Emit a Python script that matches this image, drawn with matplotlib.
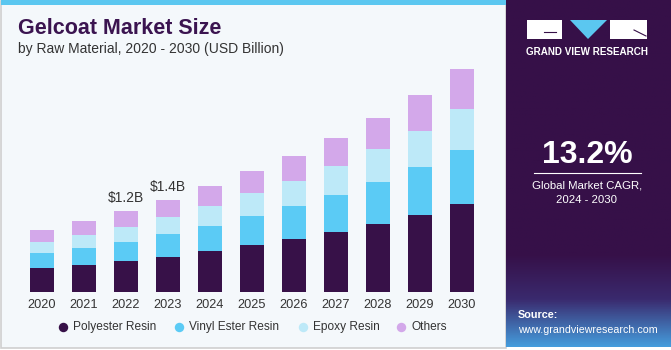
import numpy as np
import matplotlib.pyplot as plt
from matplotlib.patches import Rectangle, Polygon

plt.rcParams['font.family'] = ['Liberation Sans', 'DejaVu Sans']

years = ['2020', '2021', '2022', '2023', '2024', '2025', '2026', '2027', '2028', '2029', '2030']
polyester = [0.351, 0.400, 0.459, 0.519, 0.603, 0.696, 0.785, 0.889, 1.007, 1.145, 1.299]
vinyl_ester = [0.222, 0.252, 0.286, 0.341, 0.375, 0.430, 0.493, 0.553, 0.622, 0.711, 0.804]
epoxy = [0.167, 0.197, 0.222, 0.252, 0.296, 0.336, 0.370, 0.425, 0.484, 0.533, 0.607]
others = [0.178, 0.197, 0.233, 0.256, 0.292, 0.326, 0.370, 0.410, 0.464, 0.523, 0.588]
series_names = ['Polyester Resin', 'Vinyl Ester Resin', 'Epoxy Resin', 'Others']
colors = ['#371148', '#5BCBF5', '#BDE9F8', '#D3A8EA']
labels = {2: '$1.2B', 3: '$1.4B'}

W, H = 671, 350
fig = plt.figure(figsize=(W / 100, H / 100), dpi=100)
fig.patch.set_facecolor('white')

def fx(px):
    return px / W

def fy(py):
    return 1 - py / H

# background panels
bg = fig.add_axes([0, 0, 1, 1])
bg.set_xlim(0, W)
bg.set_ylim(H, 0)
bg.axis('off')
bg.add_patch(Rectangle((1, 1), 505, 347, facecolor='#F4F8FB', edgecolor='#CFCFCF', lw=1.2))
bg.add_patch(Rectangle((1, 0), 505, 5, facecolor='#5BC7F0', edgecolor='none'))

# right dark panel with gradient at the bottom
grad = np.linspace(0, 1, 200)
top = np.array([0x36, 0x10, 0x48]) / 255
mid = np.array([0x3A, 0x2A, 0x6E]) / 255
bot = np.array([0x45, 0x9C, 0xDC]) / 255
rows = []
for g in grad:
    y = g * 347
    if y < 255:
        c = top
    elif y < 300:
        t = (y - 255) / 45
        c = top * (1 - t) + mid * t
    else:
        t = (y - 300) / 47
        c = mid * (1 - t) + bot * t
    rows.append(c)
img = np.array(rows)[:, None, :]
bg.imshow(img, extent=(506, 671, 347, 0), aspect='auto', zorder=1)

# logo
bg.add_patch(Rectangle((527, 20), 35, 19, facecolor='white', edgecolor='none', zorder=3))
bg.add_patch(Polygon([(570, 20), (607, 20), (588, 39)], closed=True, facecolor='#5BC7F0', edgecolor='none', zorder=3))
bg.add_patch(Rectangle((610, 20), 37, 19, facecolor='white', edgecolor='none', zorder=3))
bg.plot([544, 556], [32, 32], color='#361048', lw=0.8, zorder=4)
bg.plot([634, 646], [30, 36], color='#361048', lw=0.8, zorder=4)
bg.text(587, 52, 'GRAND VIEW RESEARCH', color='white', fontsize=7.1, fontweight='bold',
        ha='center', va='center', zorder=4)

bg.text(587, 155, '13.2%', color='white', fontsize=23, fontweight='bold', ha='center', va='center', zorder=4)
bg.plot([534, 641], [173, 173], color='white', lw=0.8, zorder=4)
bg.text(587, 185, 'Global Market CAGR,', color='white', fontsize=8.2, ha='center', va='center', zorder=4)
bg.text(587, 200, '2024 - 2030', color='white', fontsize=8.2, ha='center', va='center', zorder=4)
bg.text(518, 315, 'Source:', color='white', fontsize=7.8, fontweight='bold', ha='left', va='center', zorder=4)
bg.text(518, 330, 'www.grandviewresearch.com', color='white', fontsize=7.7, ha='left', va='center', zorder=4)

# titles
bg.text(18, 29, 'Gelcoat Market Size', color='#3B1450', fontsize=15.5, fontweight='bold', ha='left', va='center')
bg.text(18, 49, 'by Raw Material, 2020 - 2030 (USD Billion)', color='#333333', fontsize=10, ha='left', va='center')

# chart
ax_left, ax_right, ax_top, ax_bottom = 10, 495, 60, 292
ax = fig.add_axes([fx(ax_left), fy(ax_bottom), fx(ax_right - ax_left), (ax_bottom - ax_top) / H])
ax.patch.set_alpha(0)
x = np.arange(len(years))
bottom = np.zeros(len(years))
for vals, name, col in zip([polyester, vinyl_ester, epoxy, others], series_names, colors):
    ax.bar(x, vals, width=0.548, bottom=bottom, color=col, edgecolor='none', label=name)
    bottom += np.array(vals)
for i, txt in labels.items():
    ax.text(x[i], bottom[i] + 0.09, txt, ha='center', va='bottom', fontsize=10, color='#333333')
ax.set_xlim((ax_left - 42) / 42, (ax_right - 42) / 42)
ax.set_ylim(0, (ax_bottom - ax_top) / 67.5)
ax.set_xticks(x)
ax.set_xticklabels(years, fontsize=9.2, color='#333333')
ax.tick_params(axis='x', length=0, pad=5)
ax.set_yticks([])
for s in ax.spines.values():
    s.set_visible(False)

# legend
leg_x = [63, 179, 303, 401]
for lx, name, col in zip(leg_x, series_names, colors):
    bg.plot(lx, 327, 'o', color=col, ms=6.8, mec='none')
    bg.text(lx + 10, 327, name, fontsize=8.6, color='#333333', ha='left', va='center')

fig.savefig('out.png', dpi=100)
